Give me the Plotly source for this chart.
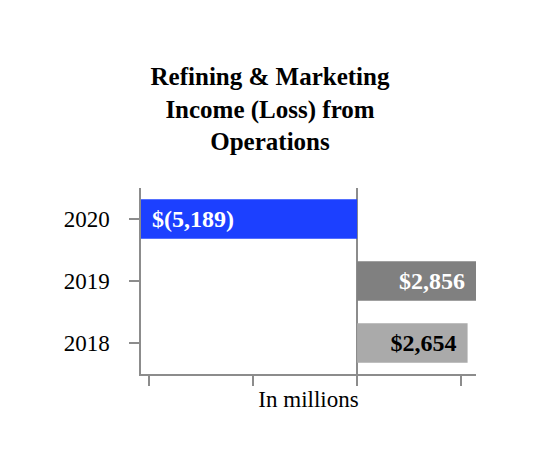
import plotly.graph_objects as go

# Data
years = ["2020", "2019", "2018"]
values = [-5189, 2856, 2654]
value_labels = ["$(5,189)", "$2,856", "$2,654"]
x_ticks = [-5000, -2500, 0, 2500]

# Styles
bar_colors = ["#1c40ff", "#808080", "#aaaaaa"]
label_colors = ["white", "white", "black"]
FONT = "Liberation Serif"
PAD = "&nbsp;&#8202;"

bar_text = []
for v, t in zip(values, value_labels):
    t = t.replace("$", "&#36;")
    bar_text.append("<b>" + (PAD + t if v < 0 else t + PAD) + "</b>")

fig = go.Figure()
fig.add_trace(go.Bar(
    x=values, y=years, orientation="h",
    marker=dict(color=bar_colors, line=dict(width=0)),
    width=0.64, hoverinfo="skip",
    text=bar_text, textposition="inside", insidetextanchor="end",
    constraintext="none", textangle=0,
    insidetextfont=dict(family=FONT, size=24, color=label_colors),
))

fig.update_layout(
    width=524, height=460,
    margin=dict(l=133, r=56, t=180, b=94),
    paper_bgcolor="white", plot_bgcolor="white",
    showlegend=False,
    font=dict(family=FONT, size=23, color="black"),
    title=dict(
        text="<b>Refining & Marketing<br>Income (Loss) from<br>Operations</b>",
        x=0.5, xanchor="center", y=1 - 77 / 460, yanchor="top",
        font=dict(family=FONT, size=25, color="black"),
    ),
)

fig.update_xaxes(
    range=[min(values), max(values)],
    tickvals=x_ticks, showticklabels=False,
    ticks="outside", ticklen=10, tickwidth=1.5, tickcolor="#8c8c8c",
    showline=True, linecolor="#8c8c8c", linewidth=1.5,
    showgrid=False,
    zeroline=True, zerolinecolor="#8c8c8c", zerolinewidth=1.5,
    title=dict(text="In millions", standoff=6,
               font=dict(family=FONT, size=23, color="black")),
)
fig.update_yaxes(
    type="category",
    categoryorder="array", categoryarray=years[::-1],
    range=[-0.5, 2.5],
    ticks="outside", ticklen=10, tickwidth=1.5, tickcolor="#8c8c8c",
    showline=True, linecolor="#8c8c8c", linewidth=1.5,
    showgrid=False, zeroline=False,
    ticklabelstandoff=15,
    tickfont=dict(family=FONT, size=23, color="black"),
)

fig.write_html("out.html")
